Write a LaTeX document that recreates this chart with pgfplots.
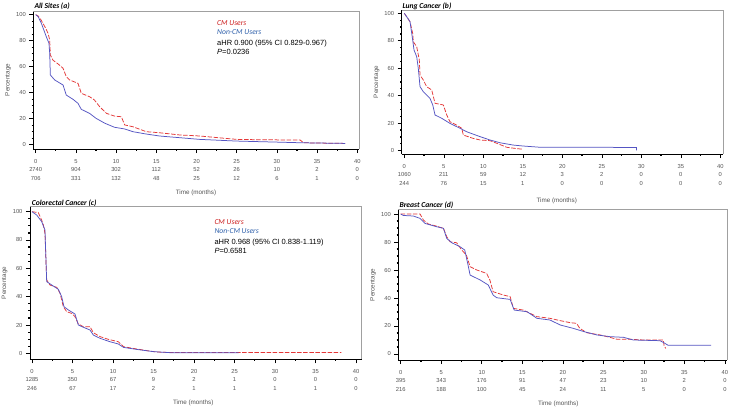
\documentclass[border=0pt]{standalone}
\usepackage{pgfplots}
\pgfplotsset{compat=1.18}
\usepackage{fontspec}
\setmainfont{Liberation Sans}
\newfontfamily\calfont{Carlito}
\definecolor{cmred}{RGB}{228,55,55}
\definecolor{ncblue}{RGB}{85,85,195}
\definecolor{txtred}{RGB}{205,30,30}
\definecolor{txtblue}{RGB}{45,95,170}
\definecolor{tickgray}{RGB}{85,85,85}
\definecolor{boxgray}{RGB}{160,160,160}

\pgfplotsset{
 km/.style={
  scale only axis, anchor=south west,
  axis lines=left, axis line style={-, black, line width=0.5pt},
  xtick={0,5,...,40}, minor x tick num=1,
  ytick={0,20,...,100}, minor y tick num=3,
  tick align=outside, major tick length=4pt, minor tick length=1.6pt,
  major tick style={black, line width=0.6pt},
  minor tick style={black, line width=1.2pt},
  tick label style={font=\fontsize{5.8}{8.5}\selectfont, text=tickgray},
  xticklabel style={align=center, yshift=-2.5pt},
  /pgf/number format/assume math mode=true,
  clip=false,
 },
 cm/.style={cmred, line width=0.75pt, dash pattern=on 4.5pt off 1.6pt},
 nc/.style={ncblue, line width=0.75pt},
}
\newcommand{\kmframe}{\draw[boxgray, line width=0.6pt] (rel axis cs:0,1) -- (rel axis cs:1,1) -- (rel axis cs:1,0);}
\newcommand{\kmttl}[1]{{\calfont\bfseries\itshape\fontsize{7.6}{9}\selectfont #1}}
\newcommand{\kmlab}{\fontsize{6.3}{7}\selectfont\color{tickgray}}
\newcommand{\kmann}[5]{%
 \node[anchor=west, inner sep=0pt, text=txtred] at (#1pt,-#2pt) {\calfont\itshape\fontsize{7.6}{9}\selectfont CM Users};
 \node[anchor=west, inner sep=0pt, text=txtblue] at (#1pt,-#2pt-9.6pt) {\calfont\itshape\fontsize{7.6}{9}\selectfont Non-CM Users};
 \node[anchor=west, inner sep=0pt] at (#1pt,-#2pt-20.5pt) {\fontsize{7.5}{9}\selectfont aHR #3};
 \node[anchor=west, inner sep=0pt] at (#1pt,-#2pt-29.5pt) {\fontsize{7.5}{9}\selectfont \textit{P}=#4};
}

\begin{document}
\begin{tikzpicture}
\path[use as bounding box, fill=white] (0pt,0pt) rectangle (729pt,-410pt);

% ---------- (a) All Sites
\begin{axis}[km, at={(33.3pt,-149pt)}, width=326pt, height=138pt,
  xmin=-0.3, xmax=40.25, ymin=-3.3, ymax=102.8,
  xticklabels={{0\\2740\\706},{5\\904\\331},{10\\302\\132},{15\\112\\48},{20\\52\\25},{25\\26\\12},{30\\10\\6},{35\\2\\1},{40\\0\\0}}]
\kmframe
\addplot[cm] coordinates {(0,100)(0.3,99)(0.6,96.5)(0.9,93.4)(1.2,90)(1.53,85.7)(1.74,80.5)(1.82,69)(2.15,65)(2.8,62)(3.4,58.8)(3.8,52.3)(4.2,49.8)(5.26,47.2)(5.67,39.5)(6.7,36.9)(7.3,34.4)(7.96,29.2)(8.8,24.1)(9.8,22)(10.65,21.5)(11.07,15.2)(12.1,13.8)(13.76,10)(15.4,9.2)(17.9,7.5)(20.4,6.7)(22.5,5.5)(25,4.1)(28,3.8)(32.9,3.6)(33.3,1.5)(36,1.2)(38.5,1)};
\addplot[nc] coordinates {(0,100)(0.3,98.5)(0.7,93.4)(1.32,83)(1.65,78)(1.74,70.3)(1.82,53.6)(2.36,49.8)(3.4,45.9)(3.8,38.2)(4.64,34.9)(5.26,31.8)(5.67,27.2)(6.7,24.1)(7.5,20.3)(8.6,16.5)(9.8,13.4)(11.07,12.1)(12.1,10)(13.76,8.2)(15.4,6.7)(17.9,5.4)(20.4,4.1)(25,2.8)(30,2)(33,1.5)(38.5,1)};
\end{axis}

% ---------- (b) Lung
\begin{axis}[km, at={(401.7pt,-154pt)}, width=321.6pt, height=144pt,
  xmin=-0.33, xmax=40.38, ymin=-2.4, ymax=102.4,
  xticklabels={{0\\1060\\244},{5\\211\\76},{10\\59\\15},{15\\12\\1},{20\\3\\0},{25\\2\\0},{30\\0\\0},{35\\0\\0},{40\\0\\0}}]
\kmframe
\addplot[cm] coordinates {(0,100)(0.72,93.9)(1.06,85.4)(1.14,79.3)(1.57,75.7)(1.9,66)(1.99,55)(2.4,51.5)(2.83,46.6)(3.47,44.2)(3.89,34.5)(4.94,33.3)(5.37,26)(5.78,21.1)(6.6,18.7)(7.27,16.3)(7.47,11.4)(8.7,9)(9.6,7.8)(10.85,7.3)(11.7,5.4)(12.96,2.5)(14,1.7)(15.06,1.0)};
\addplot[nc] coordinates {(0,100)(0.72,94)(1.06,80.6)(1.23,73.3)(1.57,68.4)(1.77,60)(1.99,46.6)(2.4,43)(3.25,38.1)(3.6,33.3)(3.89,26)(4.73,23.6)(5.78,19.9)(7.05,16.3)(7.9,13.8)(9.6,10.2)(10.85,7.8)(12.1,5.8)(13.8,4.1)(15.06,3.4)(17.2,2.5)(29.4,2.4)(29.4,0.3)};
\end{axis}

% ---------- (c) Colorectal
\begin{axis}[km, at={(30pt,-359.3pt)}, width=331.7pt, height=152.6pt,
  xmin=-0.25, xmax=40.7, ymin=-4.2, ymax=103.5,
  xticklabels={{0\\1285\\246},{5\\350\\67},{10\\67\\17},{15\\9\\2},{20\\2\\1},{25\\1\\1},{30\\0\\1},{35\\0\\1},{40\\0\\0}}]
\kmframe
\addplot[cm] coordinates {(0,100)(0.78,99.3)(1.19,94)(1.4,90.6)(1.6,84.7)(1.81,51.8)(2.22,48.2)(3.05,46.6)(3.46,42.4)(3.87,32.9)(4.28,29.4)(4.9,28.2)(5.3,25.9)(5.72,20.7)(6.34,18.8)(7.16,18.8)(7.57,14.6)(8.4,11.8)(9.42,9.9)(10.66,8.2)(11.3,4.7)(12.5,3.5)(14.2,1.9)(15.4,0.94)(17,0.6)(38.2,0.6)};
\addplot[nc] coordinates {(0,100)(0.58,97.6)(1.19,93)(1.6,87)(1.81,50.6)(2.63,47.5)(3.25,45.2)(3.66,40)(3.95,32.9)(4.49,30.6)(5.3,27.8)(5.72,20)(6.34,18.4)(7.16,16.5)(7.57,12.9)(8.4,10.6)(9.63,8.2)(10.66,6.6)(11.3,4.2)(12.9,2.8)(15,1.2)(17,0.5)(25.5,0.5)};
\end{axis}

% ---------- (d) Breast
\begin{axis}[km, at={(398.3pt,-360pt)}, width=329pt, height=150.7pt,
  xmin=-0.3, xmax=40.3, ymin=-4.3, ymax=103.4,
  xticklabels={{0\\395\\216},{5\\343\\188},{10\\176\\100},{15\\91\\45},{20\\47\\24},{25\\23\\11},{30\\10\\5},{35\\2\\0},{40\\0\\0}}]
\kmframe
\addplot[cm] coordinates {(0,100)(2.39,100)(2.8,95.7)(3.4,92.9)(4.4,91.4)(5.27,89.8)(5.68,83.8)(6.1,80.2)(6.9,79.5)(7.53,74.3)(8.1,70.7)(8.56,62.4)(9.4,60)(10.6,57.6)(11,52.9)(11.4,44.5)(12.7,42.1)(13.5,41)(13.9,32.6)(15.1,31.4)(16,29)(16.8,26.7)(18.4,25.5)(19.7,23.8)(20.9,22.4)(21.7,21.9)(22.1,18.3)(22.96,15.2)(24.6,13.6)(25.8,11.9)(26.7,10.5)(28.3,10.5)(30,10)(32.4,10)(32.5,6)(32.7,4)};
\addplot[nc] coordinates {(0,100)(0.33,99)(1.56,98.6)(2.39,96.9)(3,93.3)(4.4,91)(5.27,89.8)(5.68,82.6)(6.3,79.5)(7.3,76.7)(7.9,74.3)(8.35,62.4)(8.56,56.4)(9.8,52.9)(10.8,49.3)(11.4,42.1)(11.85,40.2)(13.5,39)(14,31.4)(15.6,30.2)(16.8,25.5)(18.4,24.3)(19.7,20.7)(21.3,18.3)(22.6,16)(24.2,13.6)(25.8,12.4)(27.5,11.9)(28.7,10)(32,9.5)(32.6,7.6)(33,6.2)(38.3,6.2)};
\end{axis}

% titles
\node[anchor=base west, inner sep=0pt] at (34.3pt,-8.8pt) {\kmttl{All Sites (a)}};
\node[anchor=base west, inner sep=0pt] at (402.3pt,-8.3pt) {\kmttl{Lung Cancer (b)}};
\node[anchor=base west, inner sep=0pt] at (31.7pt,-205pt) {\kmttl{Colorectal Cancer (c)}};
\node[anchor=base west, inner sep=0pt] at (399.3pt,-207.3pt) {\kmttl{Breast Cancer (d)}};

% annotations
\kmann{217}{22.7}{0.900 (95\% CI 0.829-0.967)}{0.0236}
\kmann{574}{19.3}{0.834 (95\% CI 0.719-0.968)}{0.0158}
\kmann{214.3}{221.7}{0.968 (95\% CI 0.838-1.119)}{0.6581}
\kmann{574}{223.3}{0.901 (95\% CI 0.735-1.105)}{0.3162}

% axis labels
\node at (196pt,-193pt) {\kmlab Time (months)};
\node at (556.7pt,-201pt) {\kmlab Time (months)};
\node at (193.3pt,-403pt) {\kmlab Time (months)};
\node at (558.3pt,-404pt) {\kmlab Time (months)};
\node[rotate=90] at (8pt,-80pt) {\kmlab Percentage};
\node[rotate=90] at (376.7pt,-82pt) {\kmlab Percentage};
\node[rotate=90] at (4.5pt,-283pt) {\kmlab Percentage};
\node[rotate=90] at (373pt,-285pt) {\kmlab Percentage};
\end{tikzpicture}
\end{document}
